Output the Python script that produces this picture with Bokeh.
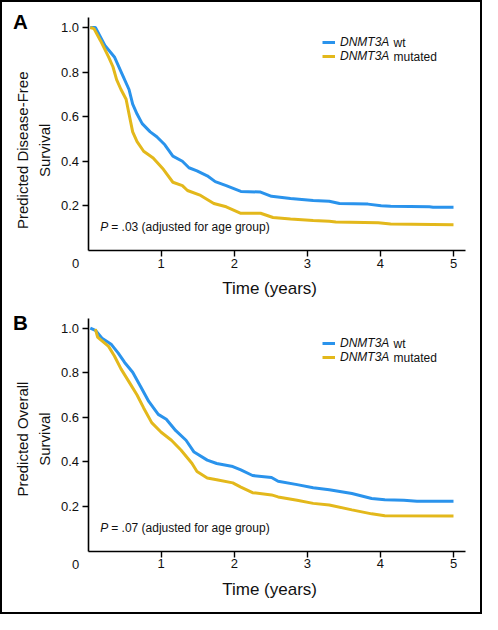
import math
from bokeh.plotting import figure
from bokeh.models import Label, Legend, LegendItem, FixedTicker, NumeralTickFormatter, Range1d
from bokeh.layouts import column
from bokeh.embed import file_html
from bokeh.resources import INLINE

# ---------------- data ----------------
x_ticks = [1, 2, 3, 4, 5]
y_ticks = [0.2, 0.4, 0.6, 0.8, 1.0]

series_names = ["DNMT3A", "DNMT3A"]
series_suffix = ["wt", "mutated"]

# Panel A: predicted disease-free survival
dfs_wt_t = [0.03, 0.10, 0.23, 0.36, 0.47, 0.56, 0.61, 0.67, 0.74, 0.85, 0.94, 1.05, 1.16, 1.29,
            1.38, 1.49, 1.63, 1.74, 1.89, 2.09, 2.36, 2.51, 2.77, 3.08, 3.30, 3.44, 3.83, 4.01,
            4.14, 4.67, 4.72, 5.0]
dfs_wt_s = [1.0, 1.0, 0.919, 0.868, 0.788, 0.722, 0.656, 0.612, 0.569, 0.532, 0.51, 0.474, 0.423,
            0.40, 0.371, 0.357, 0.335, 0.309, 0.291, 0.265, 0.262, 0.243, 0.233, 0.224, 0.221,
            0.211, 0.208, 0.201, 0.198, 0.196, 0.194, 0.194]
dfs_mut_t = [0.03, 0.08, 0.17, 0.28, 0.34, 0.39, 0.45, 0.52, 0.56, 0.61, 0.67, 0.76, 0.89, 1.03,
             1.16, 1.29, 1.36, 1.54, 1.72, 1.89, 2.09, 2.36, 2.53, 2.77, 3.08, 3.30, 3.39, 3.97,
             4.14, 5.0]
dfs_mut_s = [1.0, 0.995, 0.941, 0.868, 0.824, 0.766, 0.722, 0.678, 0.612, 0.532, 0.488, 0.445,
             0.415, 0.364, 0.306, 0.291, 0.269, 0.247, 0.211, 0.196, 0.167, 0.167, 0.148, 0.141,
             0.134, 0.131, 0.128, 0.124, 0.119, 0.116]

# Panel B: predicted overall survival
os_wt_t = [0.03, 0.10, 0.19, 0.32, 0.41, 0.50, 0.61, 0.72, 0.83, 0.96, 1.07, 1.20, 1.34, 1.45,
           1.63, 1.76, 1.98, 2.09, 2.25, 2.51, 2.60, 2.86, 3.08, 3.30, 3.61, 3.88, 4.06, 4.32,
           4.50, 5.0]
os_wt_s = [1.0, 0.99, 0.955, 0.926, 0.889, 0.846, 0.802, 0.737, 0.671, 0.613, 0.591, 0.540, 0.497,
           0.444, 0.408, 0.393, 0.379, 0.364, 0.339, 0.330, 0.313, 0.298, 0.284, 0.275, 0.258,
           0.236, 0.230, 0.228, 0.224, 0.224]
os_mut_t = [0.10, 0.13, 0.17, 0.28, 0.36, 0.45, 0.56, 0.67, 0.76, 0.87, 1.00, 1.14, 1.27, 1.42,
            1.49, 1.63, 1.76, 1.98, 2.09, 2.25, 2.51, 2.60, 2.86, 3.08, 3.30, 3.61, 3.88, 4.06, 5.0]
os_mut_s = [0.995, 0.96, 0.948, 0.918, 0.875, 0.817, 0.759, 0.700, 0.642, 0.576, 0.533, 0.497,
            0.453, 0.394, 0.357, 0.328, 0.320, 0.306, 0.287, 0.262, 0.252, 0.243, 0.228, 0.214,
            0.207, 0.185, 0.167, 0.159, 0.157]

# ---------------- styling / layout ----------------
BLUE = "#2A93EC"
GOLD = "#E3B81B"
FONT = "Liberation Sans"
INK = "#111111"
FIG_W = 478
AX_LEFT = 85.6          # px of x = 0 inside each figure
PX_X = 73.08            # px per year
PX_Y = 223.0            # px per unit survival
X_MAX = 5.16
Y_MAX = 1.045


def make_panel(letter, ylab1, ylab2, t_wt, s_wt, t_mut, s_mut, ptext, H, ax_bottom, pos):
    # pos: dict of text positions in figure pixels (x from left, y from top)
    def X(px):
        return (px - AX_LEFT) / PX_X

    def Y(py):
        return (ax_bottom - py) / PX_Y

    p = figure(width=FIG_W, height=H,
               x_range=Range1d(X(0), X(FIG_W)), y_range=Range1d(Y(H), Y(0)),
               output_backend="svg", toolbar_location=None,
               min_border=0, min_border_left=0, min_border_right=0,
               min_border_top=0, min_border_bottom=0)
    p.outline_line_color = None
    p.xgrid.visible = False
    p.ygrid.visible = False

    for ax in (p.xaxis[0], p.yaxis[0]):
        ax.fixed_location = 0
        ax.axis_line_width = 1.6
        ax.axis_line_color = "black"
        ax.major_tick_line_width = 1.4
        ax.major_tick_line_color = "black"
        ax.major_tick_in = 0
        ax.major_tick_out = 6
        ax.minor_tick_line_color = None
        ax.major_label_text_font = FONT
        ax.major_label_text_font_size = "13px"
        ax.major_label_text_color = INK
    p.xaxis.bounds = (0, X_MAX)
    p.yaxis.bounds = (0, Y_MAX)
    p.xaxis.ticker = FixedTicker(ticks=x_ticks)
    p.yaxis.ticker = FixedTicker(ticks=y_ticks)
    p.yaxis.formatter = NumeralTickFormatter(format="0.0")
    p.xaxis.major_label_standoff = 2
    p.yaxis.major_label_standoff = 3

    r_wt = p.line(t_wt, s_wt, line_color=BLUE, line_width=3)
    r_mut = p.line(t_mut, s_mut, line_color=GOLD, line_width=3)

    row1, row2 = pos["legend_rows"]
    legend = Legend(items=[LegendItem(label=series_names[0], renderers=[r_wt]),
                           LegendItem(label=series_names[1], renderers=[r_mut])],
                    location=(pos["legend_x"], H - (row1 - 7) - 28), orientation="vertical",
                    glyph_width=13, glyph_height=14, label_height=14, spacing=0,
                    padding=0, margin=0, label_standoff=5,
                    border_line_color=None, background_fill_alpha=0,
                    label_text_font=FONT, label_text_font_style="italic",
                    label_text_font_size="12px", label_text_color=INK)
    p.add_layout(legend)
    for suf, ry in zip(series_suffix, [row1, row2]):
        p.add_layout(Label(x=X(pos["suffix_x"]), y=Y(ry), text=suf, text_font=FONT,
                           text_font_size="12px", text_baseline="middle", text_color=INK))

    # P value annotation
    px_, py_ = pos["p"]
    p.add_layout(Label(x=X(px_), y=Y(py_), text="P", text_font=FONT, text_font_style="italic",
                       text_font_size="12px", text_baseline="middle", text_color=INK))
    p.add_layout(Label(x=X(px_ + 11.0), y=Y(py_), text=ptext, text_font=FONT,
                       text_font_size="12px", text_baseline="middle", text_color=INK))

    # origin label "0"
    ox, oy = pos["zero"]
    p.add_layout(Label(x=X(ox), y=Y(oy), text="0", text_font=FONT, text_font_size="13px",
                       text_align="center", text_baseline="middle", text_color=INK))

    # x axis title
    tx, ty = pos["xtitle"]
    p.add_layout(Label(x=X(tx), y=Y(ty), text="Time (years)", text_font=FONT,
                       text_font_size="17px", text_align="center", text_baseline="middle",
                       text_color=INK))

    # y axis title (two lines)
    yy = pos["ytitle_y"]
    for txt, lx in zip([ylab1, ylab2], [19.5, 41.6]):
        p.add_layout(Label(x=X(lx), y=Y(yy), text=txt, text_font=FONT,
                           text_font_size="15px", angle=math.pi / 2, text_align="center",
                           text_baseline="middle", text_color=INK))

    # panel letter
    lx, ly = pos["letter"]
    p.add_layout(Label(x=X(lx), y=Y(ly), text=letter, text_font=FONT, text_font_style="bold",
                       text_font_size="20.5px", text_align="center", text_baseline="middle",
                       text_color="black"))
    return p


posA = dict(letter=(17.8, 19.0), ytitle_y=147.8, zero=(73.0, 261.1), xtitle=(267.1, 285.5),
            p=(97.7, 224.1), legend_x=320.0, legend_rows=(40.2, 54.5), suffix_x=391.0)
posB = dict(letter=(17.8, 16.6), ytitle_y=133.6, zero=(73.0, 259.3), xtitle=(267.1, 283.7),
            p=(97.7, 222.0), legend_x=320.0, legend_rows=(38.4, 52.4), suffix_x=391.0)

pA = make_panel("A", "Predicted Disease-Free", "Survival",
                dfs_wt_t, dfs_wt_s, dfs_mut_t, dfs_mut_s,
                "= .03 (adjusted for age group)", 303, 248.0, posA)
pB = make_panel("B", "Predicted Overall", "Survival",
                os_wt_t, os_wt_s, os_mut_t, os_mut_s,
                "= .07 (adjusted for age group)", 307, 245.6, posB)

layout = column(pA, pB, spacing=0, styles={"border": "2px solid black"})

open("out.html", "w").write(file_html(layout, INLINE))
